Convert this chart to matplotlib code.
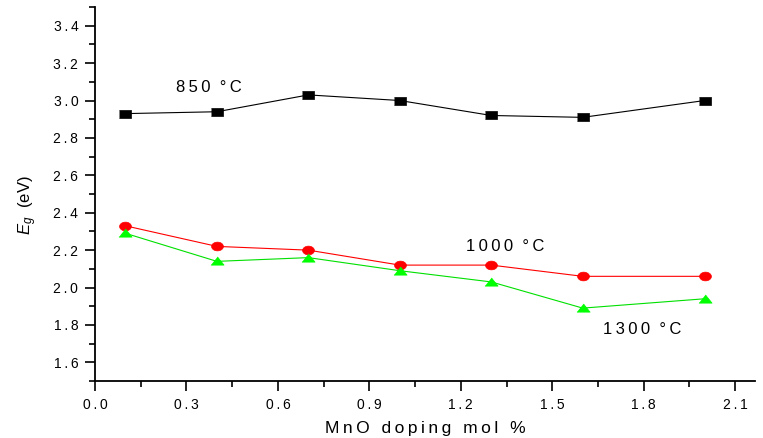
import matplotlib
matplotlib.use("Agg")
from matplotlib import pyplot as plt
from matplotlib.ticker import MultipleLocator, FuncFormatter
import numpy as np

plt.rcParams['font.family'] = ['Liberation Sans', 'DejaVu Sans']
plt.rcParams['mathtext.fontset'] = 'custom'
plt.rcParams['mathtext.rm'] = 'Liberation Sans'
plt.rcParams['mathtext.it'] = 'Liberation Sans:italic'

# MnO doping (mol %) and band gap (eV) for each sintering temperature
doping = [0.1, 0.4, 0.7, 1.0, 1.3, 1.6, 2.0]
eg_850 = [2.93, 2.94, 3.03, 3.00, 2.92, 2.91, 3.00]
eg_1000 = [2.33, 2.22, 2.20, 2.12, 2.12, 2.06, 2.06]
eg_1300 = [2.29, 2.14, 2.16, 2.09, 2.03, 1.89, 1.94]

SP = '\u2009'


def spaced(s):
    # fake letter spacing like the original Origin export
    return SP.join(s)


# the original markers are squashed vertically
t = np.linspace(0, 2 * np.pi, 40)
rect = [(-1, -0.66), (1, -0.66), (1, 0.66), (-1, 0.66)]
ellipse = list(zip(np.cos(t), 0.74 * np.sin(t)))
tri = [(-1, -0.55), (1, -0.55), (0, 0.7)]

fig = plt.figure(figsize=(7.63, 4.38), dpi=100)
ax = fig.add_axes([0.1245, 0.130, 0.865, 0.854])

ax.plot(doping, eg_850, color='black', lw=0.8, marker=rect, ms=8,
        mfc='black', mec='black', mew=0.5)
ax.plot(doping, eg_1000, color='red', lw=0.8, marker=ellipse, ms=8.5,
        mfc='red', mec='red', mew=0.5)
ax.plot(doping, eg_1300, color='#00e000', lw=0.8, marker=tri, ms=9.5,
        mfc='#00ff00', mec='#00ff00', mew=0.5)

ax.set_xlim(0, 2.165)
ax.set_ylim(1.5, 3.5)

ax.xaxis.set_major_locator(MultipleLocator(0.3))
ax.xaxis.set_minor_locator(MultipleLocator(0.15))
ax.yaxis.set_minor_locator(MultipleLocator(0.1))
ax.set_yticks([1.6, 1.8, 2.0, 2.2, 2.4, 2.6, 2.8, 3.0, 3.2, 3.4])

fmt = FuncFormatter(lambda v, p: spaced('%.1f' % v))
ax.xaxis.set_major_formatter(fmt)
ax.yaxis.set_major_formatter(fmt)

for side in ['top', 'right']:
    ax.spines[side].set_visible(False)
for side in ['left', 'bottom']:
    ax.spines[side].set_linewidth(1.3)

ax.tick_params(which='major', direction='out', length=7, width=1.2,
               labelsize=10, pad=5)
ax.tick_params(which='minor', direction='out', length=4, width=1.2)

ax.set_xlabel(spaced('MnO doping mol %'), fontsize=12.5, labelpad=7)
ax.set_ylabel(r'$\it{E}_{g}$' + '  (eV)', fontsize=12)
ax.yaxis.set_label_coords(-0.085, 0.47)

ax.text(0.266, 3.067, spaced('850') + '  °' + SP + 'C', fontsize=12,
        va='center', ha='left')
ax.text(1.217, 2.217, spaced('1000') + '  °' + SP + 'C', fontsize=12,
        va='center', ha='left')
ax.text(1.667, 1.776, spaced('1300') + '  °' + SP + 'C', fontsize=12,
        va='center', ha='left')

fig.savefig('out.png', dpi=100)
